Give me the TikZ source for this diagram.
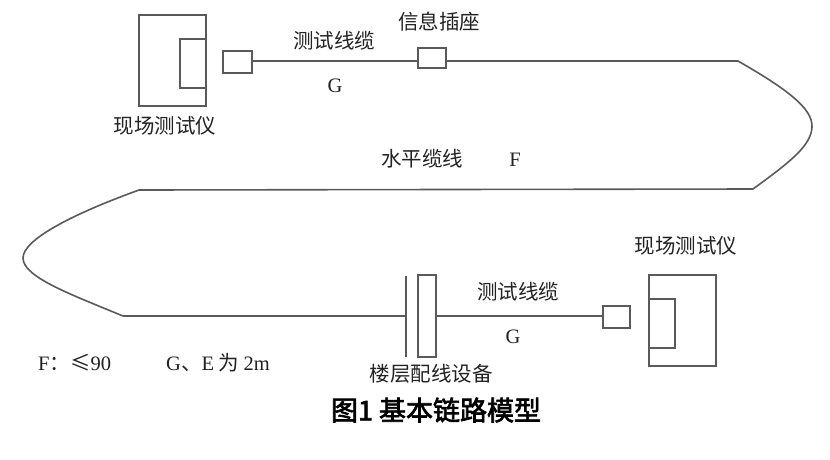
\documentclass[tikz,border=0pt]{standalone}
\usepackage{fontspec}
\setmainfont{Noto Sans CJK SC}
\newfontfamily\cjk{Noto Sans CJK SC}
\newfontfamily\capfont[FakeBold=2.5]{Noto Sans CJK SC}
\newfontfamily\latinfont{Liberation Serif}
\definecolor{ln}{HTML}{5A5A5A}
\definecolor{tx}{HTML}{222222}
\begin{document}
\begin{tikzpicture}[x=1pt,y=-1pt,
  wire/.style={draw=ln,line width=1.6pt},
  box/.style={draw=ln,line width=1.6pt,fill=white},
  lbl/.style={text=tx,font=\fontsize{20.5}{22}\selectfont,inner sep=0pt},
  ltr/.style={text=tx,font=\latinfont\fontsize{20.5}{22}\selectfont,inner sep=0pt}]
\useasboundingbox[fill=white] (0,0) rectangle (830,459);
% top-left instrument
\draw[box] (139,15) rectangle (206,106);
\draw[box] (180,39) rectangle (206,88);
\node[box,minimum width=29pt,minimum height=22pt,inner sep=0pt] (c1) at (237.5,62) {};
\node[box,minimum width=28pt,minimum height=20pt,inner sep=0pt] (sock) at (432,58) {};
\coordinate (r1) at (738,61);
\coordinate (r2) at (753,189);
\coordinate (l1) at (139,190);
\coordinate (l2) at (123,316);
\draw[wire] (c1.east |- 0,61) -- (sock.west |- 0,61);
\draw[wire] (sock.east |- 0,61) -- (r1)
  .. controls (785,88) and (813,108) .. (812,127)
  .. controls (811,146) and (790,162) .. (r2) -- (l1)
  .. controls (70,215) and (23,240) .. (23,258)
  .. controls (23,277) and (70,294) .. (l2);
% floor distribution
\coordinate (vb1) at (406,276);
\coordinate (vb2) at (406,357);
\draw[wire] (vb1) -- (vb2);
\draw[wire] (l2) -- (406,316);
\node[box,minimum width=18pt,minimum height=82pt,inner sep=0pt] (fd) at (427,316) {};
\node[box,minimum width=27pt,minimum height=22pt,inner sep=0pt] (c2) at (616.5,317) {};
\draw[wire] (fd.east |- 0,316) -- (c2.west |- 0,316);
% right instrument
\draw[box] (649,275) rectangle (716,366);
\draw[box] (649,299) rectangle (675,348);
% labels
\node[lbl] (t1) at (334,41) {测试线缆};
\node[ltr] (g1) at (335,86) {G};
\node[lbl] (t2) at (439,22) {信息插座};
\node[lbl] (t3) at (165,126) {现场测试仪};
\node[lbl] (t4) at (422,159) {水平缆线};
\node[ltr] (f1) at (515,160) {F};
\node[lbl] (t5) at (518,292) {测试线缆};
\node[ltr] (g2) at (513,337) {G};
\node[lbl] (t6) at (686,246) {现场测试仪};
\node[lbl] (t7) at (431,374) {楼层配线设备};
\node[lbl,anchor=west] (n1) at (38,363) {{\latinfont F}：≤{\latinfont 90}};
\node[lbl,anchor=west] (n2) at (166,363) {{\latinfont G}、{\latinfont E} 为 {\latinfont 2m}};
\node[text=black,font=\capfont\fontsize{27}{29}\selectfont,inner sep=0pt] (cap) at (436,410) {图1\ 基本链路模型};
\end{tikzpicture}
\end{document}
